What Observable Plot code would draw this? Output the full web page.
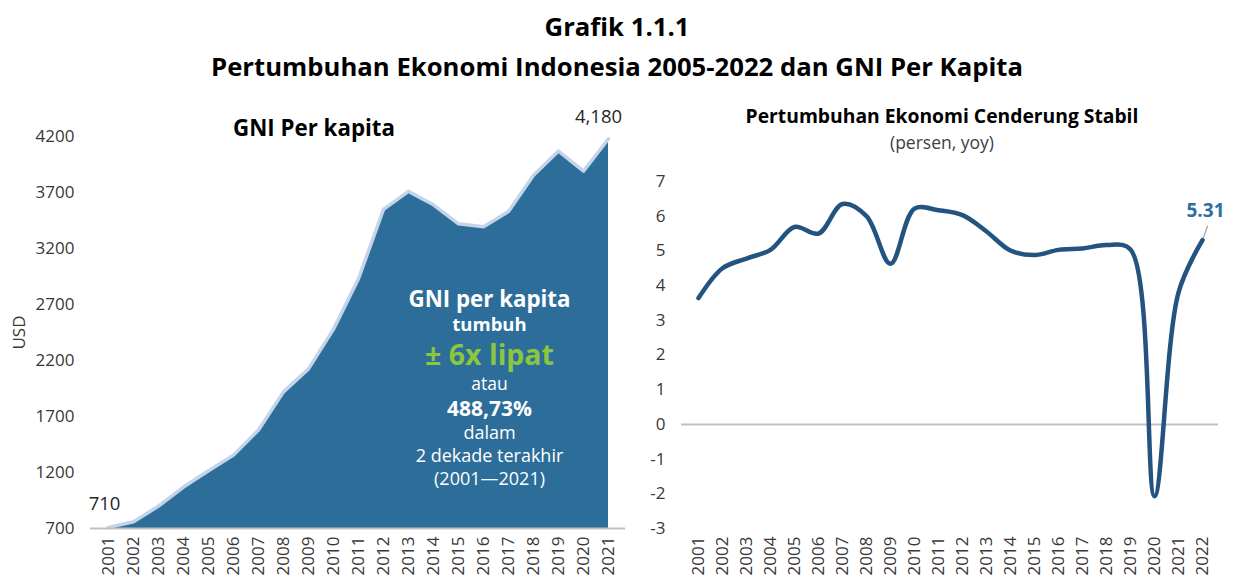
<!DOCTYPE html>
<html><head><meta charset="utf-8">
<script src="https://cdn.jsdelivr.net/npm/d3@7"></script>
<script src="https://cdn.jsdelivr.net/npm/@observablehq/plot@0.6"></script>
<style>
body{margin:0;background:#fff;font-family:"Open Sans",sans-serif;}
#wrap{position:relative;width:1234px;height:581px;overflow:hidden;background:#fff;}
.abs{position:absolute;text-align:center;white-space:nowrap;}
#t1{left:0;width:1234px;top:10px;line-height:34px;font-size:25.7px;font-weight:700;color:#000;}
#t2{left:0;width:1234px;top:50px;line-height:34px;font-size:25.7px;font-weight:700;color:#000;}
#lt{left:164px;width:300px;top:112px;line-height:32px;font-size:22.3px;font-weight:700;color:#000;}
#rt{left:692px;width:500px;top:102px;line-height:28px;font-size:19.3px;font-weight:700;color:#000;}
#rs{left:742px;width:400px;top:130px;line-height:24px;font-size:17.5px;color:#404040;}
#left{position:absolute;left:0;top:90px;}
#right{position:absolute;left:640px;top:90px;}
</style></head>
<body><div id="wrap">
<div class="abs" id="t1">Grafik 1.1.1</div>
<div class="abs" id="t2">Pertumbuhan Ekonomi Indonesia 2005-2022 dan GNI Per Kapita</div>
<div id="left"></div>
<div id="right"></div>
<div class="abs" id="lt">GNI Per kapita</div>
<div class="abs" id="rt">Pertumbuhan Ekonomi Cenderung Stabil</div>
<div class="abs" id="rs">(persen, yoy)</div>
</div>
<script>
// ---- data ----
const gniYears = ["2001","2002","2003","2004","2005","2006","2007","2008","2009","2010","2011","2012","2013","2014","2015","2016","2017","2018","2019","2020","2021"];
const gniValues = [710, 760, 900, 1070, 1215, 1355, 1580, 1920, 2125, 2480, 2930, 3550, 3710, 3590, 3420, 3395, 3530, 3855, 4070, 3890, 4180];
const gniTicks = [700, 1200, 1700, 2200, 2700, 3200, 3700, 4200];

const growthYears = ["2001","2002","2003","2004","2005","2006","2007","2008","2009","2010","2011","2012","2013","2014","2015","2016","2017","2018","2019","2020","2021","2022"];
const growthValues = [3.64, 4.50, 4.78, 5.03, 5.69, 5.50, 6.35, 6.00, 4.63, 6.22, 6.17, 6.03, 5.56, 5.01, 4.88, 5.03, 5.07, 5.17, 5.04, -2.07, 3.80, 5.31];
const growthTicks = [-3, -2, -1, 0, 1, 2, 3, 4, 5, 6, 7];

const annotationLines = ["GNI per kapita", "tumbuh", "± 6x lipat", "atau", "488,73%", "dalam", "2 dekade terakhir", "(2001\u20142021)"];

// ---- tables ----
const gni = gniYears.map((year, i) => ({year, value: gniValues[i]}));
const growth = growthYears.map((year, i) => ({year, value: growthValues[i]}));
const gniFirst = [gni[0]];
const gniLast = [gni[gni.length - 1]];
const growthLast = [growth[growth.length - 1]];

const fmtComma = d3.format(",");

const annStyle = [
  {size: 22.3, weight: 700, fill: "#ffffff", dy: 163},
  {size: 18.5, weight: 700, fill: "#ffffff", dy: 189},
  {size: 28.5, weight: 700, fill: "#8cc63f", dy: 219},
  {size: 17.5, weight: 400, fill: "#ffffff", dy: 248},
  {size: 21, weight: 700, fill: "#ffffff", dy: 273},
  {size: 18, weight: 400, fill: "#ffffff", dy: 297},
  {size: 18, weight: 400, fill: "#ffffff", dy: 320},
  {size: 18, weight: 400, fill: "#ffffff", dy: 343}
];
const annMarks = annotationLines.map((t, i) => Plot.text([t], {
  frameAnchor: "top-left", dx: 399, dy: annStyle[i].dy, text: d => d,
  fontSize: annStyle[i].size, fontWeight: annStyle[i].weight, fill: annStyle[i].fill,
  textAnchor: "middle", lineAnchor: "middle"
}));

const axisStyle = {fontFamily: "Open Sans, sans-serif", fontSize: "17px", color: "#383838", background: "transparent", overflow: "visible"};

const left = Plot.plot({
  width: 640, height: 491,
  marginTop: 46, marginBottom: 53, marginLeft: 90, marginRight: 15,
  style: axisStyle,
  x: {type: "point", domain: gniYears, padding: 0.47, tickRotate: -90, tickSize: 0, tickPadding: 8, label: null},
  y: {domain: [700, 4200], ticks: gniTicks, tickFormat: d => String(d), tickSize: 0, tickPadding: 16,
      label: "USD", labelAnchor: "center", labelArrow: "none", labelOffset: 78},
  marks: [
    Plot.areaY(gni, {x: "year", y1: 700, y2: "value", fill: "#2c6e99"}),
    Plot.lineY(gni, {x: "year", y: "value", stroke: "#c4d4ea", strokeWidth: 3.5, strokeLinejoin: "round"}),
    Plot.ruleY([700], {stroke: "#bfbfbf", strokeWidth: 2}),
    Plot.text(gniFirst, {x: "year", y: "value", text: d => fmtComma(d.value), dy: -23, dx: -4, fontSize: 18.5, fill: "#262626"}),
    Plot.text(gniLast, {x: "year", y: "value", text: d => fmtComma(d.value), dx: -10, dy: -22, fontSize: 18.5, fill: "#262626"}),
    ...annMarks
  ]
});
document.getElementById("left").appendChild(left);

const leader = {draw(context, l) { context.moveTo(0, 0); context.lineTo(0, -l); }};

const right = Plot.plot({
  width: 594, height: 491,
  marginTop: 91, marginBottom: 53, marginLeft: 41, marginRight: 16,
  style: axisStyle,
  x: {type: "point", domain: growthYears, padding: 0.45, tickRotate: -90, tickSize: 0, tickPadding: 8, label: null},
  y: {domain: [-3, 7], ticks: growthTicks, tickFormat: d => String(d), tickSize: 0, tickPadding: 16, label: null},
  marks: [
    Plot.ruleY([0], {stroke: "#bfbfbf", strokeWidth: 2}),
    Plot.vector(growthLast, {x: "year", y: "value", length: 15, rotate: 20, anchor: "start", shape: leader, stroke: "#a6a6a6", strokeWidth: 1.3}),
    Plot.line(growth, {x: "year", y: "value", curve: "catmull-rom", stroke: "#23537f", strokeWidth: 4.5, strokeLinecap: "round", strokeLinejoin: "round"}),
    Plot.text(growthLast, {x: "year", y: "value", text: d => d.value.toFixed(2), dx: 3, dy: -29, fontSize: 19, fontWeight: 700, fill: "#2e6f9e"})
  ]
});
document.getElementById("right").appendChild(right);
</script>
</body></html>
